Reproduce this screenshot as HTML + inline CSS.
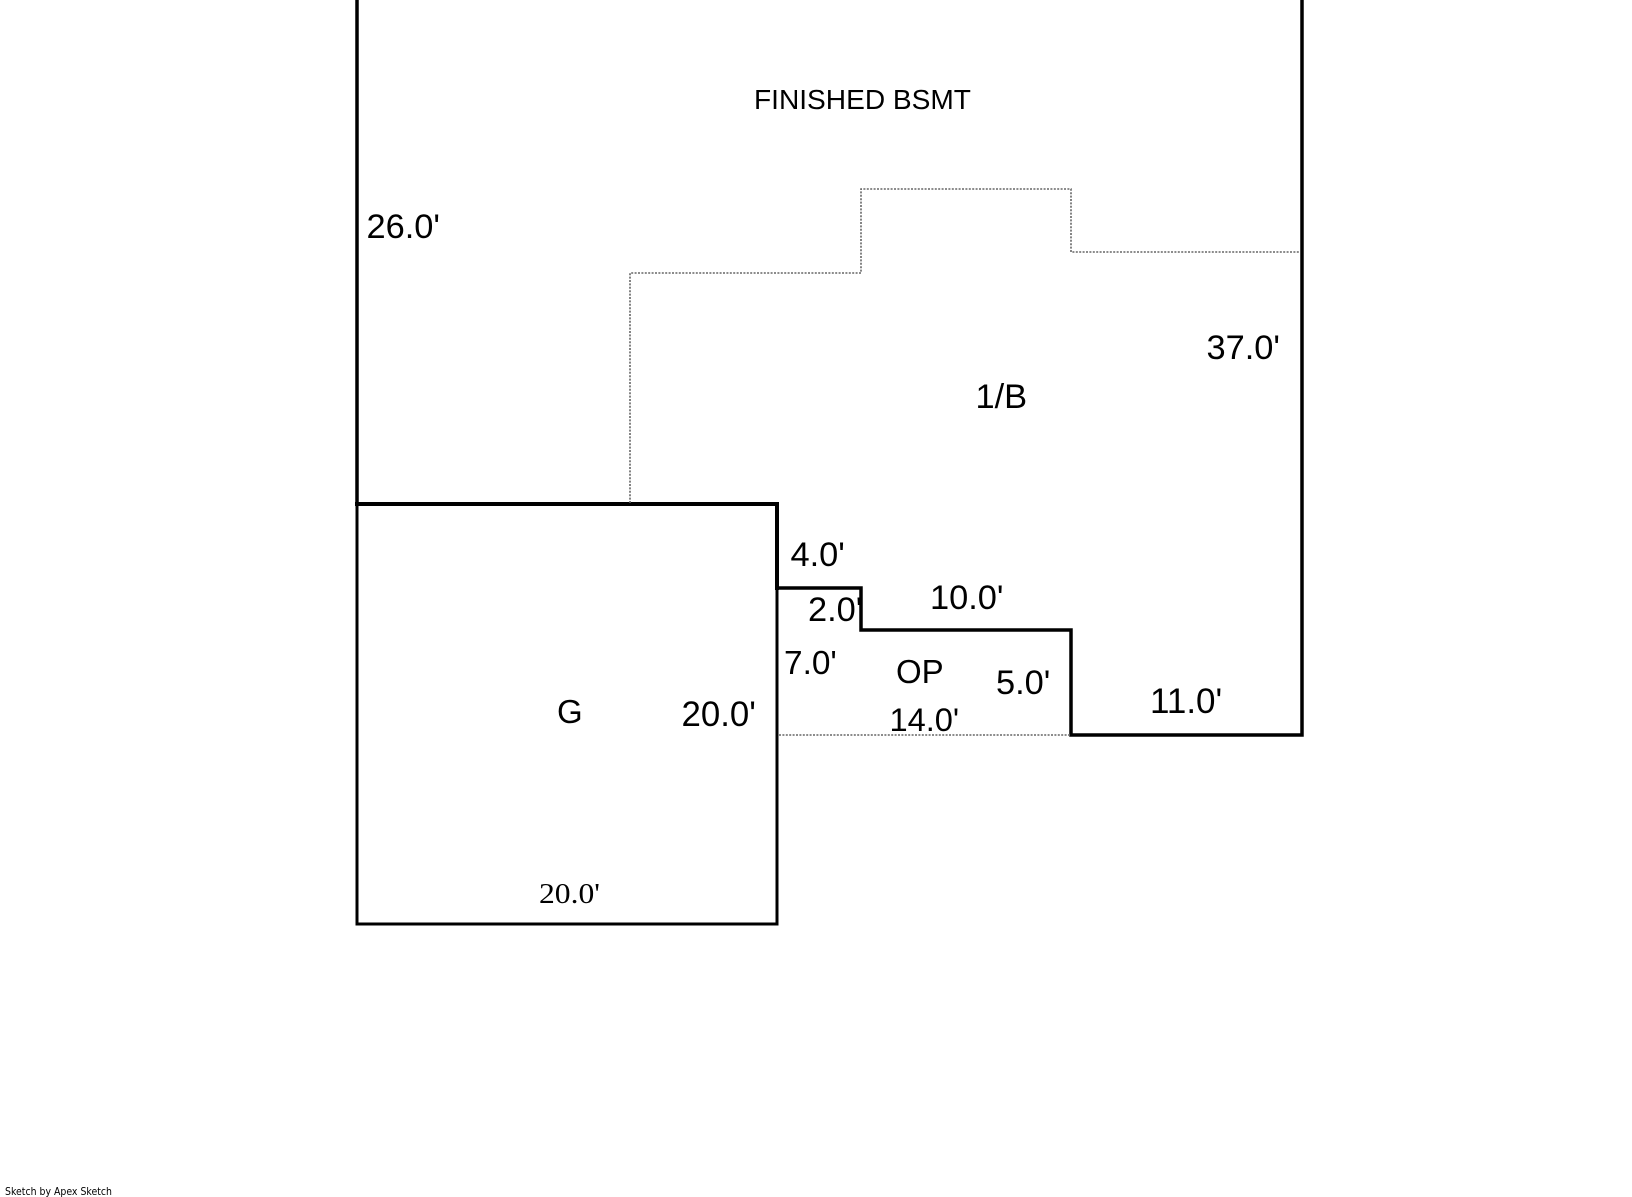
<!DOCTYPE html>
<html>
<head>
<meta charset="utf-8">
<style>
html,body{margin:0;padding:0;background:#fff;width:1632px;height:1197px;overflow:hidden}
svg{display:block}
text{font-family:"Liberation Sans",Arial,sans-serif;fill:#000;font-size:34.4px}
</style>
</head>
<body>
<svg width="1632" height="1197" viewBox="0 0 1632 1197" xmlns="http://www.w3.org/2000/svg">
<rect width="1632" height="1197" fill="#fff"/>
<g fill="none" stroke="#000" stroke-linecap="square">
  <path d="M777 588V924H357V504" stroke-width="3"/>
  <path d="M357 0V504" stroke-width="3.5"/>
  <path d="M1302 0V735H1071V630H861V588H777" stroke-width="3.5"/>
  <path d="M357 504H777V588" stroke-width="4"/>
</g>
<g fill="none" stroke="#666" stroke-width="1.6" stroke-dasharray="2 1.4">
  <path d="M630 503V273H861V189H1071V252H1300"/>
  <path d="M779 735H1070"/>
</g>
<text x="754" y="109" style="font-size:28.1px">FINISHED BSMT</text>
<text x="366.5" y="238">26.0'</text>
<text x="1206.5" y="359">37.0'</text>
<text x="975.5" y="408">1/B</text>
<text x="790.5" y="566">4.0'</text>
<text x="808" y="621">2.0'</text>
<text x="930" y="609">10.0'</text>
<text x="784" y="674" style="font-size:33.4px">7.0'</text>
<text x="896" y="683" style="font-size:33px">OP</text>
<text x="996" y="694">5.0'</text>
<text x="889.5" y="731" style="font-size:32.6px">14.0'</text>
<text x="1150" y="713" style="font-size:35px">11.0'</text>
<text x="557" y="723" style="font-size:33px">G</text>
<text x="681.5" y="726" style="font-size:34.8px">20.0'</text>
<text x="539" y="903" textLength="61" lengthAdjust="spacingAndGlyphs" style="font-family:'Liberation Serif',serif;font-size:29px">20.0'</text>
<text x="5" y="1195" textLength="107" lengthAdjust="spacingAndGlyphs" style="font-family:'DejaVu Sans',sans-serif;font-size:10.5px">Sketch by Apex Sketch</text>
</svg>
</body>
</html>
